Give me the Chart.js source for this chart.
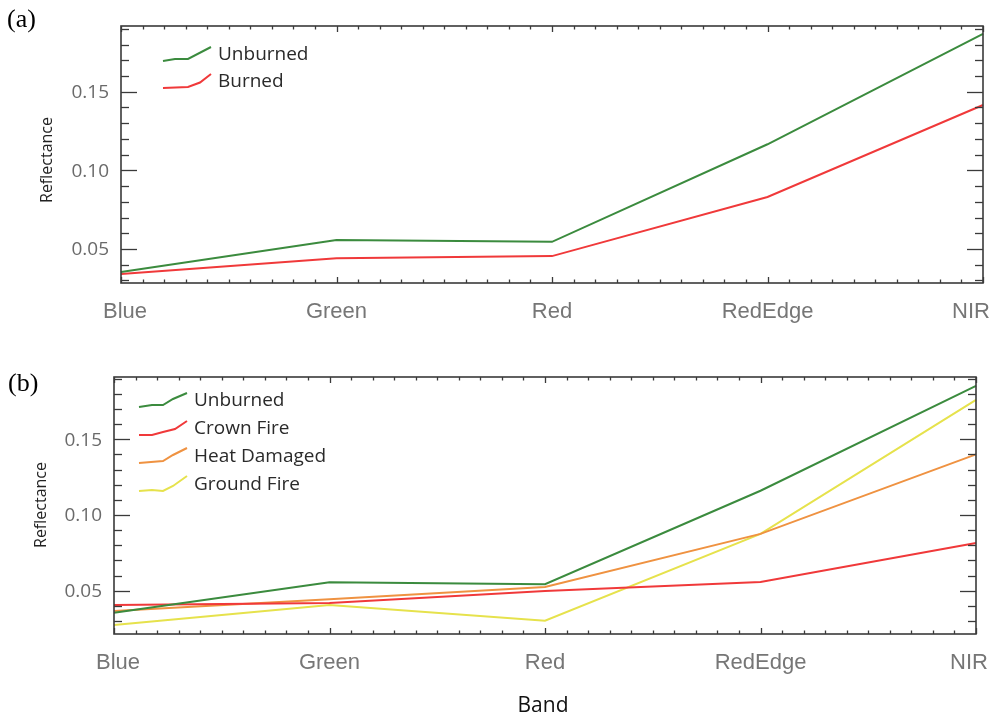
<!DOCTYPE html>
<html>
<head>
<meta charset="utf-8">
<script src="https://cdn.jsdelivr.net/npm/chart.js@4/dist/chart.umd.min.js"></script>
<style>
  html, body { margin: 0; padding: 0; background: #fff; }
  #wrap { position: relative; width: 998px; height: 717px; overflow: hidden; }
  .panel { position: absolute; left: 0; width: 998px; }
</style>
</head>
<body>
<div id="wrap">
  <div class="panel" style="top:0;height:345px"><canvas id="chartA" width="998" height="345"></canvas></div>
  <div class="panel" style="top:345px;height:372px"><canvas id="chartB" width="998" height="372"></canvas></div>
</div>
<script>
// Spectral bands along the x axis
const bands = ['Blue', 'Green', 'Red', 'RedEdge', 'NIR'];

// Panel (a): mean reflectance, unburned vs burned
const unburnedA = [0.0354, 0.0557, 0.0546, 0.1166, 0.1868];
const burnedA   = [0.0341, 0.0441, 0.0455, 0.0831, 0.1416];

// Panel (b): mean reflectance by burn class
const unburnedB   = [0.0354, 0.0556, 0.0543, 0.1160, 0.1852];
const crownFire   = [0.0406, 0.0418, 0.0498, 0.0557, 0.0815];
const heatDamaged = [0.0366, 0.0443, 0.0524, 0.0875, 0.1400];
const groundFire  = [0.0273, 0.0406, 0.0302, 0.0875, 0.1760];

// Labelled y ticks
const yTickLabels = [0.05, 0.10, 0.15];

const GREEN = '#3b8b3e', RED = '#f0393a', ORANGE = '#ef9241', YELLOW = '#e6e24c';
const AXIS = '#3a3a3a';

// Little hand-drawn-looking legend strokes (offsets from the start point)
const SQUIGGLES = {
  unburnedA: [[0,0],[12,-2],[25,-2],[48,-14]],
  burnedA:   [[0,0],[25,-1],[37,-5.5],[48,-14]],
  unburnedB: [[0,0],[13,-2],[24,-2],[34,-8],[48,-14]],
  crownB:    [[0,0],[13,0],[24,-3],[36,-6],[48,-14]],
  heatB:     [[0,0],[24,-2],[34,-8],[48,-15]],
  groundB:   [[0,0],[13,-1],[24,0],[34,-5],[48,-15]]
};

function line(ctx, x1, y1, x2, y2) {
  ctx.beginPath(); ctx.moveTo(x1, y1); ctx.lineTo(x2, y2); ctx.stroke();
}

// Boxed axes with inward minor/major ticks, labels, titles and legend
function panelDecor(cfg) {
  return {
    id: 'panelDecor',
    afterDatasetsDraw(chart) {
      const ctx = chart.ctx, a = chart.chartArea;
      const xs = chart.scales.x, ys = chart.scales.y;
      ctx.save();

      // frame
      ctx.strokeStyle = AXIS;
      ctx.lineWidth = 1.6;
      ctx.strokeRect(a.left, a.top, a.right - a.left, a.bottom - a.top);

      // y ticks every 0.01 on both sides
      ctx.lineWidth = 1.3;
      const lo = Math.ceil(ys.min * 100 - 1e-6), hi = Math.floor(ys.max * 100 + 1e-6);
      for (let k = lo; k <= hi; k++) {
        const y = Math.round(ys.getPixelForValue(k / 100)) + 0.5;
        const len = (k % 5 === 0) ? 16 : 8;
        line(ctx, a.left, y, a.left + len, y);
        line(ctx, a.right, y, a.right - len, y);
      }
      // x ticks: ten subdivisions between bands, top and bottom
      for (let k = 0; k <= (bands.length - 1) * 10; k++) {
        const x = Math.round(xs.getPixelForValue(k / 10)) + 0.5;
        const len = (k % 10 === 0) ? 6 : 3.5;
        line(ctx, x, a.bottom, x, a.bottom - len);
        line(ctx, x, a.top, x, a.top + len);
      }

      // y tick labels
      ctx.fillStyle = '#6a6a6a';
      ctx.font = '19px "Open Sans"';
      ctx.textAlign = 'right';
      ctx.textBaseline = 'middle';
      yTickLabels.forEach(v => {
        ctx.fillText(v.toFixed(2), a.left - 12, ys.getPixelForValue(v) + 1);
      });

      // x tick labels
      ctx.fillStyle = '#767676';
      ctx.font = '22px "Liberation Sans"';
      ctx.textAlign = 'center';
      ctx.textBaseline = 'alphabetic';
      bands.forEach((b, i) => {
        const w = ctx.measureText(b).width;
        let x = xs.getPixelForValue(i);
        x = Math.max(x, a.left - 18 + w / 2);
        x = Math.min(x, a.right + cfg.xLabelRight - w / 2);
        ctx.fillText(b, x, a.bottom + 35);
      });

      // y axis title
      ctx.fillStyle = '#222';
      ctx.font = '16px "Open Sans"';
      ctx.save();
      ctx.translate(cfg.yTitle[0], cfg.yTitle[1]);
      ctx.rotate(-Math.PI / 2);
      ctx.textAlign = 'center';
      ctx.textBaseline = 'middle';
      ctx.fillText('Reflectance', 0, 0);
      ctx.restore();

      // x axis title
      if (cfg.xTitle) {
        ctx.fillStyle = '#111';
        ctx.font = '21px "Open Sans"';
        ctx.textAlign = 'center';
        ctx.textBaseline = 'alphabetic';
        ctx.fillText('Band', (a.left + a.right) / 2 - 2, cfg.xTitle);
      }

      // panel letter
      ctx.fillStyle = '#000';
      ctx.font = '26px "Liberation Serif"';
      ctx.textAlign = 'left';
      ctx.textBaseline = 'alphabetic';
      ctx.fillText(cfg.letter[0], cfg.letter[1], cfg.letter[2]);

      // legend
      const L = cfg.legend;
      chart.data.datasets.forEach((ds, i) => {
        const sx = L.x, sy = L.y + i * L.step;
        ctx.strokeStyle = ds.borderColor;
        ctx.lineWidth = 2;
        ctx.beginPath();
        ds.squiggle.forEach(([dx, dy], j) => {
          if (j === 0) ctx.moveTo(sx + dx, sy + dy); else ctx.lineTo(sx + dx, sy + dy);
        });
        ctx.stroke();
        ctx.fillStyle = '#2a2a2a';
        ctx.font = '19px "Open Sans"';
        ctx.textAlign = 'left';
        ctx.textBaseline = 'alphabetic';
        ctx.fillText(ds.label, L.textX, sy - 1);
      });

      ctx.restore();
    }
  };
}

function makeChart(id, datasets, yMin, yMax, padding, decor) {
  return new Chart(document.getElementById(id), {
    type: 'line',
    data: { labels: bands, datasets },
    options: {
      responsive: false,
      animation: false,
      devicePixelRatio: 1,
      layout: { padding },
      plugins: { legend: { display: false }, tooltip: { enabled: false } },
      elements: { point: { radius: 0 }, line: { tension: 0, borderWidth: 2 } },
      scales: {
        x: { type: 'category', display: false, offset: false },
        y: { type: 'linear', display: false, min: yMin, max: yMax }
      }
    },
    plugins: [panelDecor(decor)]
  });
}

function series(label, data, color, squiggle) {
  return { label, data, borderColor: color, backgroundColor: color, fill: false, squiggle };
}

makeChart('chartA', [
  series('Unburned', unburnedA, GREEN, SQUIGGLES.unburnedA),
  series('Burned', burnedA, RED, SQUIGGLES.burnedA)
], 0.0284, 0.1918, { left: 121, right: 15, top: 26, bottom: 62 }, {
  xLabelRight: 7, yTitle: [47, 160], xTitle: null, letter: ['(a)', 7, 27],
  legend: { x: 163, y: 61, step: 27, textX: 218 }
});

makeChart('chartB', [
  series('Unburned', unburnedB, GREEN, SQUIGGLES.unburnedB),
  series('Crown Fire', crownFire, RED, SQUIGGLES.crownB),
  series('Heat Damaged', heatDamaged, ORANGE, SQUIGGLES.heatB),
  series('Ground Fire', groundFire, YELLOW, SQUIGGLES.groundB)
], 0.0214, 0.1911, { left: 114, right: 22, top: 32, bottom: 83 }, {
  xLabelRight: 12, yTitle: [41, 160], xTitle: 367, letter: ['(b)', 8, 46],
  legend: { x: 139, y: 62, step: 28, textX: 194 }
});
</script>
</body>
</html>
